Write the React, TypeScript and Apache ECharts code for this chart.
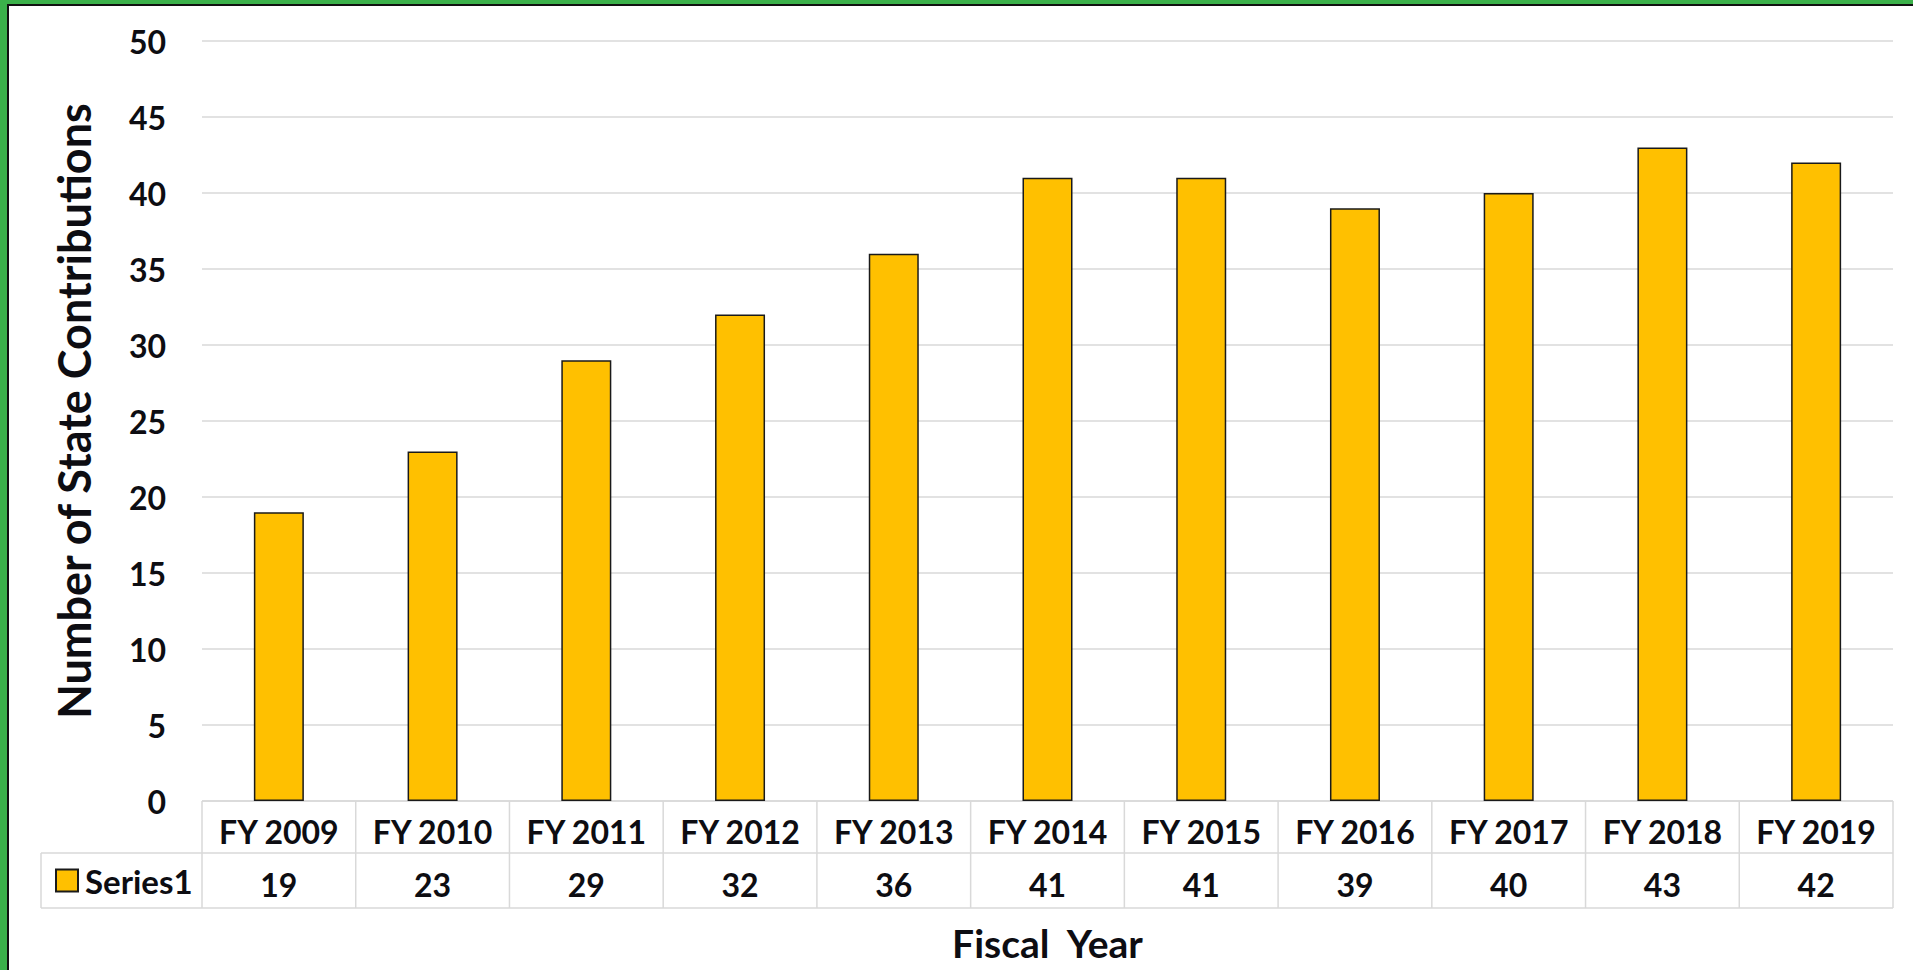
import React, { useEffect, useRef } from "react";
import * as echarts from "echarts";

const categories = ["FY 2009", "FY 2010", "FY 2011", "FY 2012", "FY 2013", "FY 2014", "FY 2015", "FY 2016", "FY 2017", "FY 2018", "FY 2019"];
const series1 = [19, 23, 29, 32, 36, 41, 41, 39, 40, 43, 42];
const seriesName = "Series1";
const yTitle = "Number of State Contributions";
const xTitle = "Fiscal  Year";

const W = 1913;
const H = 970;
const GRID_L = 202;
const GRID_R = 1893;
const GRID_T = 41;
const GRID_B = 801;
const ROW1 = 853;
const ROW2 = 908;
const TABLE_L = 41;
const FONT = "Lato, 'Open Sans', sans-serif";
const TEXT = "#0D0D12";
const LINE = "#D9D9D9";
const GREEN = "#3BB14A";

export default function App() {
  const ref = useRef<HTMLDivElement>(null);
  useEffect(() => {
    if (!ref.current) return;
    const chart = echarts.init(ref.current, undefined, { renderer: "svg" });
    const colW = (GRID_R - GRID_L) / categories.length;
    const tableLines: any[] = [];
    const ls = { stroke: LINE, lineWidth: 1.5 };
    tableLines.push({ type: "line", shape: { x1: GRID_L, y1: GRID_B, x2: GRID_R, y2: GRID_B }, style: ls });
    tableLines.push({ type: "line", shape: { x1: TABLE_L, y1: ROW1, x2: GRID_R, y2: ROW1 }, style: ls });
    tableLines.push({ type: "line", shape: { x1: TABLE_L, y1: ROW2, x2: GRID_R, y2: ROW2 }, style: ls });
    tableLines.push({ type: "line", shape: { x1: TABLE_L, y1: ROW1, x2: TABLE_L, y2: ROW2 }, style: ls });
    for (let i = 0; i <= categories.length; i++) {
      const x = GRID_L + i * colW;
      tableLines.push({ type: "line", shape: { x1: x, y1: GRID_B, x2: x, y2: ROW2 }, style: ls });
    }
    const frame = [
      { type: "rect", shape: { x: 0, y: 0, width: W, height: 4 }, style: { fill: GREEN } },
      { type: "rect", shape: { x: 0, y: 0, width: 7, height: H }, style: { fill: GREEN } },
      { type: "rect", shape: { x: 7, y: 4, width: W - 7, height: 2 }, style: { fill: "#111" } },
      { type: "rect", shape: { x: 7, y: 4, width: 2, height: H - 4 }, style: { fill: "#111" } },
    ];
    chart.setOption({
      animation: false,
      backgroundColor: "#fff",
      textStyle: { fontFamily: FONT },
      grid: { left: GRID_L, right: W - GRID_R, top: GRID_T, bottom: H - GRID_B, containLabel: false },
      legend: {
        left: 50,
        top: ROW1 + 6,
        itemWidth: 22,
        itemHeight: 22,
        itemGap: 6,
        icon: "rect",
        data: [seriesName],
        textStyle: { fontFamily: FONT, fontSize: 33, fontWeight: "bold", color: TEXT, padding: [0, 0, 0, 2] },
      },
      xAxis: [
        {
          type: "category",
          data: categories,
          name: xTitle,
          nameLocation: "middle",
          nameGap: 122,
          nameTextStyle: { fontFamily: FONT, fontSize: 39, fontWeight: "bold", color: TEXT },
          axisLine: { show: false },
          axisTick: { show: false },
          axisLabel: { interval: 0, margin: 30, verticalAlign: "middle", fontFamily: FONT, fontSize: 32, fontWeight: "bold", color: TEXT },
        },
        {
          type: "category",
          data: categories,
          position: "bottom",
          axisLine: { show: false },
          axisTick: { show: false },
          axisLabel: {
            interval: 0,
            margin: 83,
            verticalAlign: "middle",
            fontFamily: FONT,
            fontSize: 32,
            fontWeight: "bold",
            color: TEXT,
            formatter: (_v: string, i: number) => String(series1[i]),
          },
        },
      ],
      yAxis: {
        type: "value",
        min: 0,
        max: 50,
        interval: 5,
        name: yTitle,
        nameLocation: "middle",
        nameRotate: 90,
        nameGap: 106,
        nameTextStyle: { fontFamily: FONT, fontSize: 45, fontWeight: "bold", color: TEXT, padding: [0, 0, 0, 20] },
        axisLine: { show: false },
        axisTick: { show: false },
        axisLabel: { margin: 36, fontFamily: FONT, fontSize: 32, fontWeight: "bold", color: TEXT },
        splitLine: { lineStyle: { color: LINE, width: 1.5 } },
      },
      series: [
        {
          name: seriesName,
          type: "bar",
          data: series1,
          barWidth: 50,
          itemStyle: { color: "#FFC000", borderColor: "#1A1A1A", borderWidth: 1.5 },
        },
      ],
      graphic: [...tableLines, ...frame],
    });
    return () => chart.dispose();
  }, []);
  return <div ref={ref} style={{ position: "fixed", left: 0, top: 0, width: W, height: H }} />;
}
